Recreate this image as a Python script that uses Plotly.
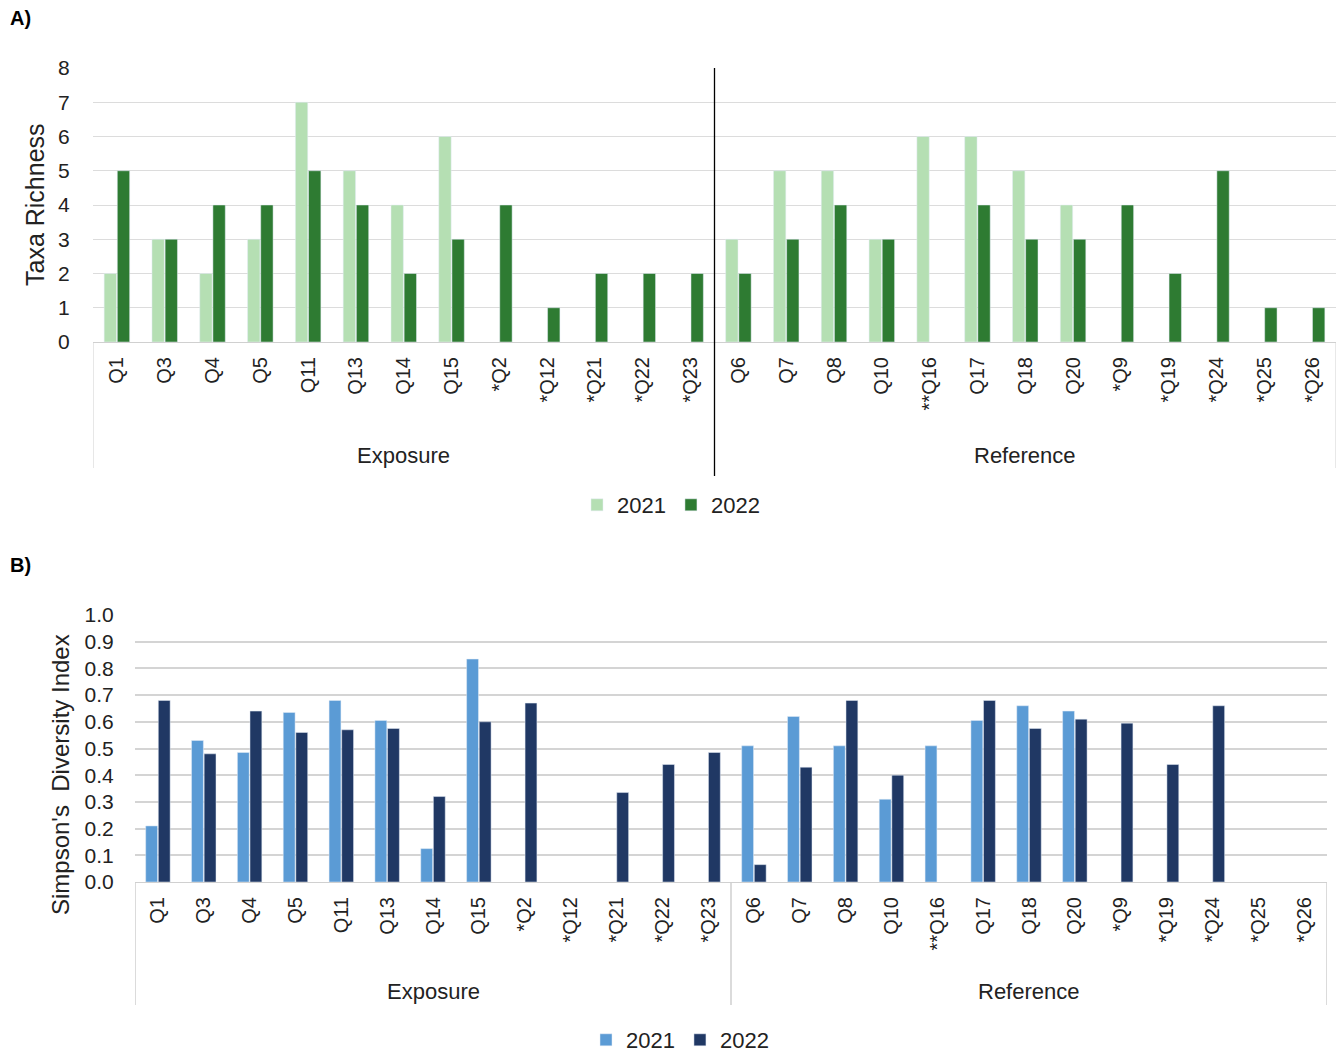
import plotly.graph_objects as go

# ---------------- data ----------------
exposure_sites = ["Q1", "Q3", "Q4", "Q5", "Q11", "Q13", "Q14", "Q15", "*Q2", "*Q12", "*Q21", "*Q22", "*Q23"]
reference_sites = ["Q6", "Q7", "Q8", "Q10", "**Q16", "Q17", "Q18", "Q20", "*Q9", "*Q19", "*Q24", "*Q25", "*Q26"]
sites = exposure_sites + reference_sites

richness_2021 = [2, 3, 2, 3, 7, 5, 4, 6, None, None, None, None, None,
                 3, 5, 5, 3, 6, 6, 5, 4, None, None, None, None, None]
richness_2022 = [5, 3, 4, 4, 5, 4, 2, 3, 4, 1, 2, 2, 2,
                 2, 3, 4, 3, None, 4, 3, 3, 4, 2, 5, 1, 1]

simpson_2021 = [0.21, 0.53, 0.485, 0.635, 0.68, 0.605, 0.125, 0.835, None, None, None, None, None,
                0.51, 0.62, 0.51, 0.31, 0.51, 0.605, 0.66, 0.64, None, None, None, None, None]
simpson_2022 = [0.68, 0.48, 0.64, 0.56, 0.57, 0.575, 0.32, 0.60, 0.67, None, 0.335, 0.44, 0.485,
                0.065, 0.43, 0.68, 0.40, None, 0.68, 0.575, 0.61, 0.595, 0.44, 0.66, None, None]

years = ["2021", "2022"]
groups = ["Exposure", "Reference"]
richness_ticks = [0, 1, 2, 3, 4, 5, 6, 7, 8]
simpson_ticks = [0.0, 0.1, 0.2, 0.3, 0.4, 0.5, 0.6, 0.7, 0.8, 0.9, 1.0]

# ---------------- style ----------------
W, H = 1339, 1055
FONT = "Liberation Sans, Arial, sans-serif"
GREEN_LIGHT = "#b5dfb3"
GREEN_DARK = "#2e7b32"
BLUE_LIGHT = "#5b9bd5"
BLUE_DARK = "#203864"

def py(pix):
    return 1 - pix / H

fig = go.Figure()

fig.add_trace(go.Bar(x=sites, y=richness_2021, name=years[0], marker_color=GREEN_LIGHT,
                     xaxis="x", yaxis="y", legend="legend"))
fig.add_trace(go.Bar(x=sites, y=richness_2022, name=years[1], marker_color=GREEN_DARK,
                     xaxis="x", yaxis="y", legend="legend"))
fig.add_trace(go.Bar(x=sites, y=simpson_2021, name=years[0], marker_color=BLUE_LIGHT,
                     xaxis="x2", yaxis="y2", legend="legend2"))
fig.add_trace(go.Bar(x=sites, y=simpson_2022, name=years[1], marker_color=BLUE_DARK,
                     xaxis="x2", yaxis="y2", legend="legend2"))

xcommon = dict(type="category", tickangle=-90, tickfont=dict(size=20, color="#222", family=FONT),
               showline=True, linecolor="#d0d0d0", linewidth=1, showgrid=False,
               ticks="outside", ticklen=6, tickcolor="rgba(0,0,0,0)", automargin=False,
               categoryorder="array", categoryarray=sites, range=[-0.5, 25.5])

fig.update_layout(
    width=W, height=H,
    margin=dict(l=0, r=0, t=0, b=0, autoexpand=False),
    paper_bgcolor="white", plot_bgcolor="white",
    font=dict(family=FONT, color="#222"),
    barmode="group", bargap=0.45, bargroupgap=0.06,
    showlegend=True,
    xaxis=dict(domain=[93 / W, 1336 / W], anchor="y", **xcommon),
    yaxis=dict(domain=[py(342), py(68)], range=[0, 8], tickvals=richness_ticks,
               showgrid=True, gridcolor="#dcdcdc", gridwidth=1, zeroline=False, automargin=False,
               tickfont=dict(size=21, family=FONT, color="#222"),
               ticks="outside", ticklen=18, tickcolor="rgba(0,0,0,0)", anchor="x"),
    xaxis2=dict(domain=[135 / W, 1327 / W], anchor="y2", **xcommon),
    yaxis2=dict(domain=[py(882), py(615)], range=[0, 1.0], tickvals=simpson_ticks,
                tickformat=".1f", automargin=False,
                showgrid=True, gridcolor="#d4d4d4", gridwidth=2, zeroline=False,
                tickfont=dict(size=21, family=FONT, color="#222"),
                ticks="outside", ticklen=16, tickcolor="rgba(0,0,0,0)", anchor="x2"),
    legend=dict(orientation="h", x=671 / W, xanchor="center", y=py(505), yanchor="middle",
                font=dict(size=22, family=FONT, color="#222"), itemwidth=30,
                traceorder="normal", bgcolor="rgba(0,0,0,0)"),
    legend2=dict(orientation="h", x=680 / W, xanchor="center", y=py(1040), yanchor="middle",
                 font=dict(size=22, family=FONT, color="#222"), itemwidth=30,
                 traceorder="normal", bgcolor="rgba(0,0,0,0)"),
)

annotations = [
    dict(text="<b>A)</b>", x=8 / W, y=py(18), xref="paper", yref="paper",
         xanchor="left", yanchor="middle", showarrow=False, font=dict(size=20, family=FONT, color="black")),
    dict(text="<b>B)</b>", x=8 / W, y=py(565), xref="paper", yref="paper",
         xanchor="left", yanchor="middle", showarrow=False, font=dict(size=20, family=FONT, color="black")),
    dict(text="Taxa Richness", x=35 / W, y=py(205), xref="paper", yref="paper", textangle=-90,
         xanchor="center", yanchor="middle", showarrow=False, font=dict(size=25, family=FONT, color="#222")),
    dict(text="Simpson's  Diversity Index", x=60 / W, y=py(775), xref="paper", yref="paper", textangle=-90,
         xanchor="center", yanchor="middle", showarrow=False, font=dict(size=24, family=FONT, color="#222")),
]
# group labels
for xa, ypix in (("x", 455), ("x2", 991)):
    annotations.append(dict(text=groups[0], x=6, y=py(ypix), xref=xa, yref="paper",
                            xanchor="center", yanchor="middle", showarrow=False,
                            font=dict(size=22, family=FONT, color="#222")))
    annotations.append(dict(text=groups[1], x=19, y=py(ypix), xref=xa, yref="paper",
                            xanchor="center", yanchor="middle", showarrow=False,
                            font=dict(size=22, family=FONT, color="#222")))
fig.update_layout(annotations=annotations)

shapes = []
# panel A group borders
for xv in (-0.5, 25.5):
    shapes.append(dict(type="line", xref="x", yref="paper", x0=xv, x1=xv, y0=py(342), y1=py(468),
                       line=dict(color="#d0d0d0", width=1)))
shapes.append(dict(type="line", xref="x", yref="paper", x0=12.5, x1=12.5, y0=py(68), y1=py(476),
                   line=dict(color="black", width=1.3)))
# panel B group borders
for xv in (-0.5, 12.5, 25.5):
    shapes.append(dict(type="line", xref="x2", yref="paper", x0=xv, x1=xv, y0=py(882), y1=py(1005),
                       line=dict(color="#cfcfcf", width=1.5)))
fig.update_layout(shapes=shapes)

fig.write_html("out.html")
